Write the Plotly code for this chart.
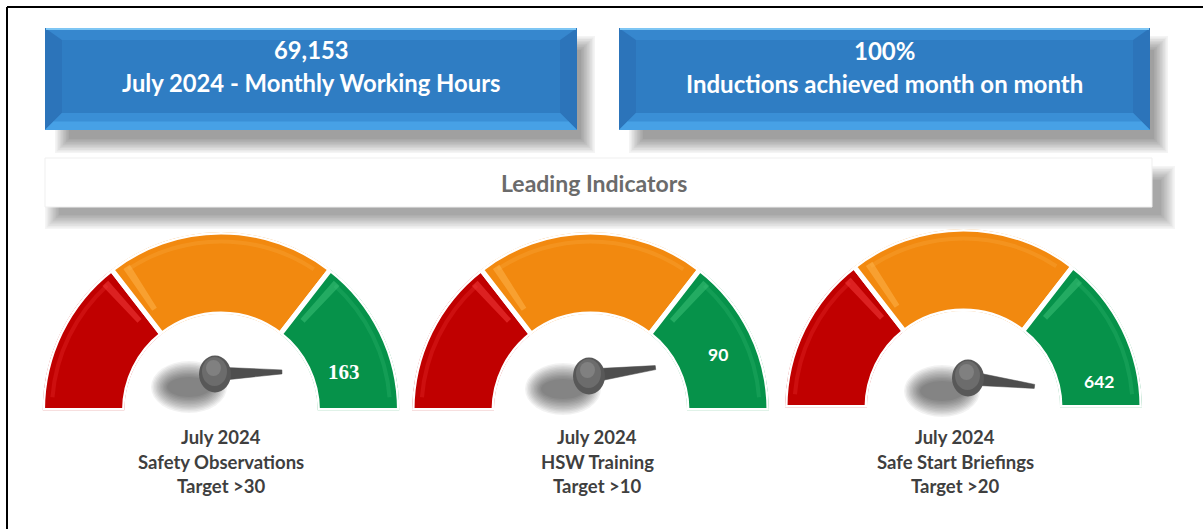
import math
import plotly.graph_objects as go

W, H = 1203, 529

# ---------------- data ----------------
header_values = ["69,153", "100%"]
header_labels = ["July 2024 - Monthly Working Hours", "Inductions achieved month on month"]
section_title = "Leading Indicators"
gauge_period = ["July 2024", "July 2024", "July 2024"]
gauge_names = ["Safety Observations", "HSW Training", "Safe Start Briefings"]
gauge_targets = [30, 10, 20]
gauge_values = [163, 90, 642]
# needle reading as a fraction of the dial sweep (0 = far left, 1 = far right)
needle_reading = [0.99, 0.96, 1.04]
# dial bands as fractions of the sweep
band_edges = [0.0, 0.29, 0.71, 1.0]
band_names = ["Below target", "Approaching target", "Target met"]

# ---------------- styling / layout constants ----------------
FONT = "Lato"
band_colors = ["#C00000", "#F2890F", "#06924A"]
band_hi = ["#F23C3C", "#FDB24C", "#3CC077"]
BOX_FACE = "#2F7DC3"
GAUGE_CX = [221, 590.5, 963.5]
GAUGE_BASE = [408, 408, 405]
R_OUT, R_IN, GAP = 176, 99, 5
VALUE_POS = [(16.5, 128), (23, 138), (10, 138)]  # (deg, radius) of value label
VALUE_SIZE = [21, 17.5, 17.5]
KNOB_OFF = [(-6, -34), (-1.5, -32), (4.5, -27)]
NEEDLE_LEN = 67

fig = go.Figure()
shapes = []
annotations = []


def soft_shadow(x0, y0, x1, y1, steps=10, spread=11, alpha=0.035, layer="below"):
    for i in range(steps):
        d = spread * (i / (steps - 1)) - spread / 2
        shapes.append(dict(type="rect", xref="x", yref="y", x0=x0 - d, x1=x1 + d,
                           y0=y0 - d, y1=y1 + d, line=dict(width=0),
                           fillcolor=f"rgba(0,0,0,{alpha})", layer=layer))


def soft_ellipse(cx, cy, rx, ry, steps=10, spread=14, alpha=0.05, layer="below"):
    for i in range(steps):
        d = spread * (1 - i / (steps - 1))
        shapes.append(dict(type="circle", xref="x", yref="y", x0=cx - rx - d, x1=cx + rx + d,
                           y0=cy - ry - d, y1=cy + ry + d, line=dict(width=0),
                           fillcolor=f"rgba(0,0,0,{alpha})", layer=layer))


def poly(pts):
    return "M " + " L ".join(f"{x:.2f},{y:.2f}" for x, y in pts) + " Z"


def bevel_box(x0, y0, x1, y1, b=17, bt=12, bb=17):
    shapes.append(dict(type="rect", xref="x", yref="y", x0=x0, x1=x1, y0=y0, y1=y1,
                       line=dict(width=0), fillcolor="#3A8CD3", layer="below"))
    # top bevel
    shapes.append(dict(type="path", xref="x", yref="y", layer="below", line=dict(width=0),
                       fillcolor="#3687CE", path=poly([(x0, y0), (x1, y0), (x1 - b, y0 + bt), (x0 + b, y0 + bt)])))
    # left bevel
    shapes.append(dict(type="path", xref="x", yref="y", layer="below", line=dict(width=0),
                       fillcolor="#2C74BA", path=poly([(x0, y0), (x0 + b, y0 + bt), (x0 + b, y1 - bb), (x0, y1)])))
    # right bevel
    shapes.append(dict(type="path", xref="x", yref="y", layer="below", line=dict(width=0),
                       fillcolor="#2C74BA", path=poly([(x1, y0), (x1 - b, y0 + bt), (x1 - b, y1 - bb), (x1, y1)])))
    # bottom bevel (two tones for a soft gradient)
    shapes.append(dict(type="path", xref="x", yref="y", layer="below", line=dict(width=0),
                       fillcolor="#3A8FD6", path=poly([(x0, y1), (x0 + b, y1 - bb), (x1 - b, y1 - bb), (x1, y1)])))
    shapes.append(dict(type="path", xref="x", yref="y", layer="below", line=dict(width=0),
                       fillcolor="#47A1E6", path=poly([(x0, y1), (x0 + b * 0.5, y1 - bb * 0.5), (x1 - b * 0.5, y1 - bb * 0.5), (x1, y1)])))
    # face
    shapes.append(dict(type="rect", xref="x", yref="y", x0=x0 + b, x1=x1 - b, y0=y0 + bt, y1=y1 - bb,
                       line=dict(width=0), fillcolor=BOX_FACE, layer="below"))
    # bright top line
    shapes.append(dict(type="line", xref="x", yref="y", x0=x0 + 1, x1=x1 - 1, y0=y0 + 1, y1=y0 + 1,
                       line=dict(width=2, color="#7EC6F4"), layer="below"))


# ---------------- header boxes ----------------
boxes = [(45, 28, 577, 130), (619, 28, 1150, 130)]
for (x0, y0, x1, y1) in boxes:
    soft_shadow(x0 + 17, y0 + 15, x1 + 11, y1 + 16, steps=10, spread=14, alpha=0.044)
for (x0, y0, x1, y1), val, lab, fs in zip(boxes, header_values, header_labels, [23.8, 24.0]):
    bevel_box(x0, y0, x1, y1)
    cx = (x0 + x1) / 2
    annotations.append(dict(x=cx, y=50, xref="x", yref="y", text=val, showarrow=False,
                            font=dict(family=FONT, size=fs, color="white", weight="bold"),
                            xanchor="center", yanchor="middle"))
    annotations.append(dict(x=cx, y=83, xref="x", yref="y", text=lab, showarrow=False,
                            font=dict(family=FONT, size=fs, color="white", weight="bold"),
                            xanchor="center", yanchor="middle"))

# ---------------- banner ----------------
soft_shadow(52, 173, 1168, 222, steps=10, spread=14, alpha=0.038)
shapes.append(dict(type="rect", xref="x", yref="y", x0=45, x1=1152, y0=158, y1=207,
                   line=dict(width=1, color="#EFEFEF"), fillcolor="white", layer="below"))
annotations.append(dict(x=594, y=183, xref="x", yref="y", text=section_title, showarrow=False,
                        font=dict(family=FONT, size=23, color="#6B6B6B", weight="bold"),
                        xanchor="center", yanchor="middle"))

# ---------------- border lines ----------------
shapes.append(dict(type="line", xref="x", yref="y", x0=7, x1=W + 5, y0=7, y1=7,
                   line=dict(color="black", width=2), layer="above"))
shapes.append(dict(type="line", xref="x", yref="y", x0=7, x1=7, y0=7, y1=H + 5,
                   line=dict(color="black", width=2), layer="above"))

# ---------------- gauges ----------------
theta_lo, theta_hi = [], []
for i in range(3):
    theta_hi.append(180 * (1 - band_edges[i]))
    theta_lo.append(180 * (1 - band_edges[i + 1]))
theta_c = [(a + b) / 2 for a, b in zip(theta_lo, theta_hi)]
theta_w = [b - a for a, b in zip(theta_lo, theta_hi)]
# glossy strip sits next to the gap facing the centre of the dial
hl_theta = [theta_lo[0] + 4.5, theta_hi[1] - 4.5, theta_hi[2] - 4.5]

layout_polars = {}
for g in range(3):
    cx, base = GAUGE_CX[g], GAUGE_BASE[g]
    Rp = R_OUT + GAP / 2
    yc = base + GAP / 2
    hole = (R_IN - GAP / 2) / Rp
    pname = "polar" if g == 0 else f"polar{g + 1}"
    layout_polars[pname] = dict(
        domain=dict(x=[(cx - Rp) / W, (cx + Rp) / W], y=[1 - yc / H, 1 - (yc - Rp) / H]),
        sector=[0, 180], hole=hole, bgcolor="rgba(0,0,0,0)",
        radialaxis=dict(visible=False, range=[0, 1]),
        angularaxis=dict(visible=False, rotation=0, direction="counterclockwise"),
    )
    fig.add_trace(go.Barpolar(
        r=[1, 1, 1], theta=theta_c, width=theta_w, base=0,
        marker=dict(color=band_colors, line=dict(color="white", width=GAP)),
        subplot=pname, showlegend=False, hoverinfo="text", text=band_names,
    ))
    fig.add_trace(go.Barpolar(
        r=[0.62, 0.62, 0.62], theta=hl_theta, width=[2.6, 2.6, 2.6], base=[0.3, 0.3, 0.3],
        marker=dict(color=band_hi, opacity=0.55, line=dict(width=0)),
        subplot=pname, showlegend=False, hoverinfo="skip",
    ))
    fig.add_trace(go.Barpolar(
        r=[0.05, 0.05, 0.05], theta=theta_c, width=[w - 9 for w in theta_w], base=[0.86, 0.86, 0.86],
        marker=dict(color=band_hi, opacity=0.25, line=dict(width=0)),
        subplot=pname, showlegend=False, hoverinfo="skip",
    ))

    # value label in the green band
    ang, rad = VALUE_POS[g]
    vx = cx + rad * math.cos(math.radians(ang))
    vy = base - rad * math.sin(math.radians(ang))
    vfont = "Liberation Serif" if g == 0 else FONT
    annotations.append(dict(x=vx, y=vy, xref="x", yref="y", text=str(gauge_values[g]), showarrow=False,
                            font=dict(family=vfont, size=VALUE_SIZE[g], color="white", weight="bold"),
                            xanchor="center", yanchor="middle"))

    # knob shadow
    kx, ky = cx + KNOB_OFF[g][0], base + KNOB_OFF[g][1]
    soft_ellipse(kx - 26, ky + 13, 22, 10, steps=12, spread=16, alpha=0.05)

    # needle
    a = math.radians(180 * (1 - needle_reading[g]))
    dx, dy = math.cos(a), -math.sin(a)
    nx, ny = math.sin(a), math.cos(a)
    w0, w1 = 7.0, 2.0
    tx, ty = kx + NEEDLE_LEN * dx, ky + NEEDLE_LEN * dy
    px = [kx + nx * w0, tx + nx * w1, tx - nx * w1, kx - nx * w0, kx + nx * w0]
    py = [ky + ny * w0, ty + ny * w1, ty - ny * w1, ky - ny * w0, ky + ny * w0]
    fig.add_trace(go.Scatter(x=px, y=py, mode="lines", fill="toself", fillcolor="#4E4E4E",
                             line=dict(width=0.5, color="#4A4A4A"), showlegend=False,
                             hoverinfo="skip", xaxis="x", yaxis="y"))

    # knob
    shapes.append(dict(type="circle", xref="x", yref="y", x0=kx - 16, x1=kx + 16, y0=ky - 18.5, y1=ky + 18.5,
                       line=dict(width=0), fillcolor="#585858", layer="above"))
    shapes.append(dict(type="circle", xref="x", yref="y", x0=kx - 13, x1=kx + 12, y0=ky - 17, y1=ky + 12,
                       line=dict(width=0), fillcolor="#6C6C6C", layer="above"))
    shapes.append(dict(type="circle", xref="x", yref="y", x0=kx - 9, x1=kx + 6, y0=ky - 14, y1=ky + 2,
                       line=dict(width=0), fillcolor="#808080", layer="above"))

    # captions
    lines = [gauge_period[g], gauge_names[g], f"Target >{gauge_targets[g]}"]
    cap_x = [221, 597, 955][g]
    for j, t in enumerate(lines):
        annotations.append(dict(x=cap_x, y=437 + 24.5 * j, xref="x", yref="y", text=t, showarrow=False,
                                font=dict(family=FONT, size=18.5, color="#3F3F3F", weight="bold"),
                                xanchor="center", yanchor="middle"))

fig.update_layout(
    width=W, height=H, margin=dict(l=0, r=0, t=0, b=0),
    paper_bgcolor="white", plot_bgcolor="white",
    xaxis=dict(range=[0, W], domain=[0, 1], visible=False, fixedrange=True),
    yaxis=dict(range=[H, 0], domain=[0, 1], visible=False, fixedrange=True),
    shapes=shapes, annotations=annotations, showlegend=False,
    **layout_polars,
)

fig.write_html("out.html", config={"displayModeBar": False},
               post_script="document.body.style.margin='0';document.body.style.overflow='hidden';")
